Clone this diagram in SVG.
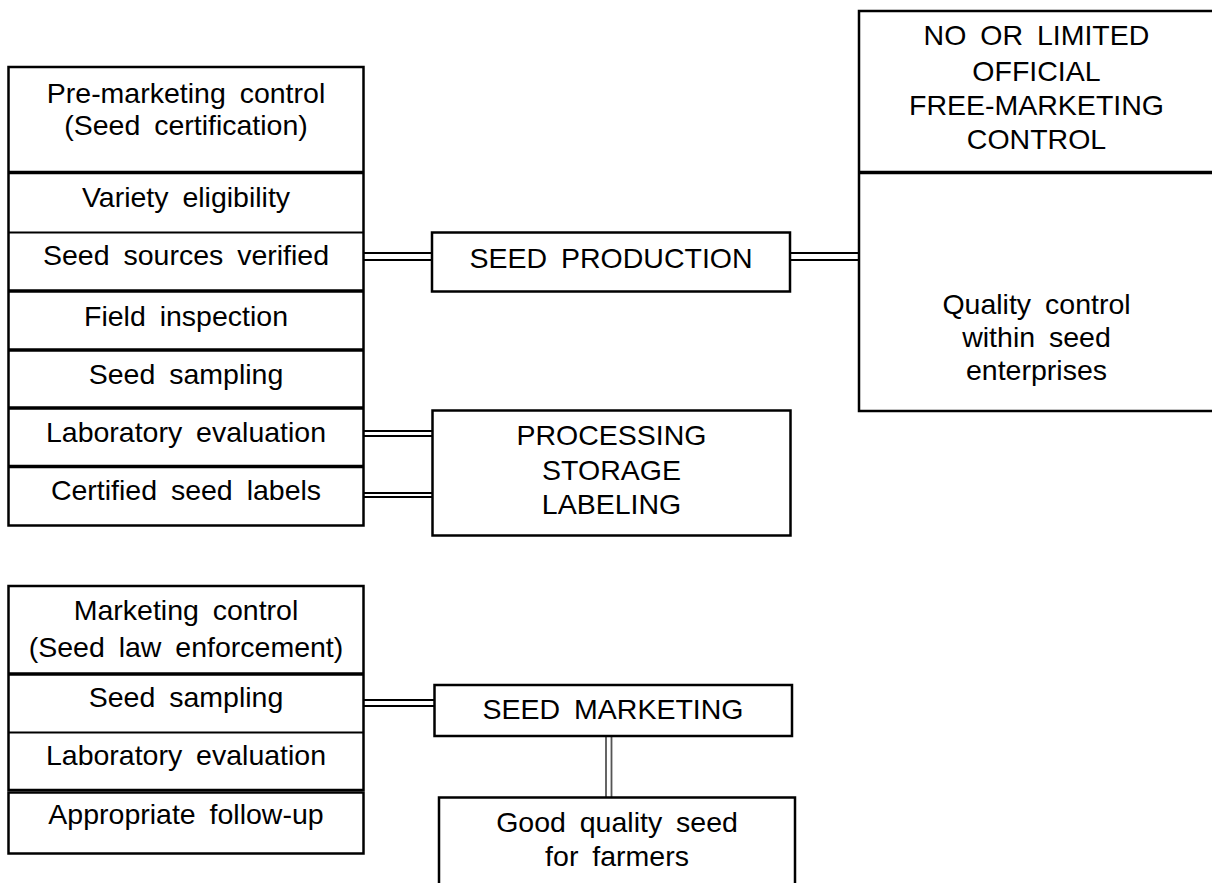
<svg xmlns="http://www.w3.org/2000/svg" width="1212" height="883" viewBox="0 0 1212 883">
<style>
text{font-family:"Liberation Sans",Arial,sans-serif;font-size:28.5px;word-spacing:6px;fill:#000;text-anchor:middle}
.box{fill:#fff;stroke:#000;stroke-width:2.5}
.sep{stroke:#000;stroke-width:2}
.thk{stroke:#000;stroke-width:3.5}
.dl{stroke:#000;stroke-width:2;fill:none}
.dg{stroke:#555;stroke-width:1.8;fill:none}
</style>
<rect width="1212" height="883" fill="#fff"/>
<g id="connectors">
<path class="dl" d="M363 253H432M363 260H432"/>
<path class="dl" d="M790 253H859M790 260H859"/>
<path class="dl" d="M363 431H432M363 436H432"/>
<path class="dl" d="M363 493H432M363 497H432"/>
<path class="dl" d="M363 700H434M363 706H434"/>
<path class="dg" d="M606 736V798M611.5 736V798"/>
</g>
<g id="premarketing">
<rect class="box" x="8.5" y="67" width="355" height="458.5"/>
<line class="thk" x1="8.5" y1="172.5" x2="363.5" y2="172.5"/>
<line class="sep" x1="8.5" y1="232.5" x2="363.5" y2="232.5"/>
<line class="thk" x1="8.5" y1="291" x2="363.5" y2="291"/>
<line class="thk" x1="8.5" y1="350" x2="363.5" y2="350"/>
<line class="thk" x1="8.5" y1="408" x2="363.5" y2="408"/>
<line class="thk" x1="8.5" y1="466.5" x2="363.5" y2="466.5"/>
<text x="186" y="103">Pre-marketing control</text>
<text x="186" y="135">(Seed certification)</text>
<text x="186" y="207">Variety eligibility</text>
<text x="186" y="265">Seed sources verified</text>
<text x="186" y="325.5">Field inspection</text>
<text x="186" y="383.5">Seed sampling</text>
<text x="186" y="441.5">Laboratory evaluation</text>
<text x="186" y="500">Certified seed labels</text>
</g>
<g id="seed-production">
<rect class="box" x="432" y="232.5" width="358" height="59"/>
<text x="611" y="267.5">SEED PRODUCTION</text>
</g>
<g id="processing">
<rect class="box" x="432.5" y="410.5" width="358" height="125"/>
<text x="611.5" y="445">PROCESSING</text>
<text x="611.5" y="479.5">STORAGE</text>
<text x="611.5" y="513.5">LABELING</text>
</g>
<g id="free-marketing">
<rect class="box" x="859" y="11" width="360" height="400"/>
<line class="thk" x1="859" y1="172.5" x2="1214" y2="172.5"/>
<text x="1036.5" y="45">NO OR LIMITED</text>
<text x="1036.5" y="80.5">OFFICIAL</text>
<text x="1036.5" y="115">FREE-MARKETING</text>
<text x="1036.5" y="149">CONTROL</text>
<text x="1036.5" y="313.5">Quality control</text>
<text x="1036.5" y="347">within seed</text>
<text x="1036.5" y="380">enterprises</text>
</g>
<g id="marketing-control">
<rect class="box" x="8.5" y="586" width="355" height="204"/>
<line class="thk" x1="8.5" y1="674" x2="363.5" y2="674"/>
<line class="sep" x1="8.5" y1="732.5" x2="363.5" y2="732.5"/>
<text x="186" y="620">Marketing control</text>
<text x="186" y="656.5">(Seed law enforcement)</text>
<text x="186" y="706.5">Seed sampling</text>
<text x="186" y="765">Laboratory evaluation</text>
</g>
<g id="follow-up">
<rect class="box" x="8.5" y="792.5" width="355" height="61"/>
<text x="186" y="823.5">Appropriate follow-up</text>
</g>
<g id="seed-marketing">
<rect class="box" x="434.5" y="685" width="357.5" height="51"/>
<text x="613" y="718.5">SEED MARKETING</text>
</g>
<g id="good-seed">
<rect class="box" x="439" y="797.5" width="356" height="100"/>
<text x="617" y="832">Good quality seed</text>
<text x="617" y="866">for farmers</text>
</g>
</svg>
